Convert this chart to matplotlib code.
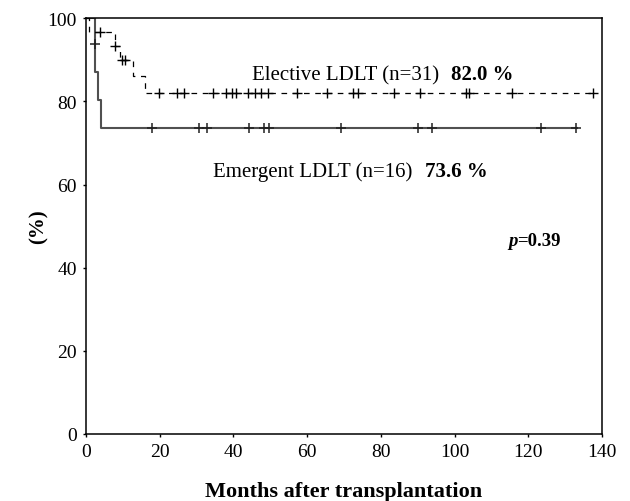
import numpy as np
import matplotlib
matplotlib.use("Agg")
import matplotlib.pyplot as plt

# ---- data ----
elective_drop_times = [0.9, 7.9, 9.3, 12.8, 16.0]
elective_levels = [100, 96.8, 93.4, 90.0, 86.2, 82.0]
elective_end = 137.6
elective_censor = [3.9, 8.0, 9.7, 10.6, 19.8, 24.8, 26.6, 34.5, 38.1, 39.5, 40.8,
                   44.0, 45.8, 47.6, 49.4, 57.2, 65.5, 72.5, 73.9, 83.6, 90.6,
                   103.1, 103.8, 115.5, 137.6]

emergent_drop_times = [2.35, 2.45, 3.3, 4.1]
emergent_levels = [100, 93.75, 87.05, 80.36, 73.6]
emergent_end = 133.5
emergent_censor = [2.4, 17.8, 30.7, 32.7, 44.3, 48.3, 49.7, 69.1, 90.0, 93.8,
                   123.4, 132.9]

x_ticks = [0, 20, 40, 60, 80, 100, 120, 140]
y_ticks = [0, 20, 40, 60, 80, 100]

label_elective = "Elective LDLT (n=31)"
value_elective = "82.0 %"
label_emergent = "Emergent LDLT (n=16)"
value_emergent = "73.6 %"
p_value = "=0.39"

plt.rcParams['font.family'] = ['Liberation Serif', 'DejaVu Serif']

fig = plt.figure(figsize=(6.30, 5.02), dpi=100)
ax = fig.add_axes([86/630, 1-435/502, (602-86)/630, (435-19.3)/502])


def step_xy(drops, levels, end):
    xs = [0] + list(drops) + [end]
    ys = list(levels) + [levels[-1]]
    return xs, ys


def level_at(t, drops, levels):
    idx = np.searchsorted(np.array(drops), t, side='right')
    return levels[idx]


# Emergent (solid, grey)
xs, ys = step_xy(emergent_drop_times, emergent_levels, emergent_end)
ax.step(xs, ys, where='post', color='#505050', lw=1.5, solid_capstyle='butt')
cy = [level_at(t, emergent_drop_times, emergent_levels) for t in emergent_censor]
ax.plot(emergent_censor, cy, ls='none', marker='+', ms=6.5, mew=1.1, color='#202020')

# Elective (dashed, black)
xs, ys = step_xy(elective_drop_times, elective_levels, elective_end)
ax.step(xs, ys, where='post', color='black', lw=0.9, dashes=(4.5, 4.5))
cy = [level_at(t, elective_drop_times, elective_levels) for t in elective_censor]
ax.plot(elective_censor, cy, ls='none', marker='+', ms=6.5, mew=1.0, color='black')

ax.set_xlim(0, 140)
ax.set_ylim(0, 100)
ax.set_xticks(x_ticks)
ax.set_yticks(y_ticks)
ax.tick_params(direction='out', length=2.5, width=1.0, labelsize=14, pad=4)
for s in ax.spines.values():
    s.set_linewidth(1.1)

ax.set_xlabel("Months after transplantation", fontsize=16, fontweight='bold', labelpad=15)
ax.set_ylabel("(%)", fontsize=15, fontweight='bold', labelpad=-1)

t1 = ax.text(45.0, 85.4, label_elective, fontsize=15, va='baseline', ha='left')
ax.annotate(value_elective, xy=(1, 0), xycoords=t1, xytext=(9, 0),
            textcoords='offset points', fontsize=15, fontweight='bold',
            va='bottom', ha='left')

t2 = ax.text(34.5, 62.0, label_emergent, fontsize=15, va='baseline', ha='left')
ax.annotate(value_emergent, xy=(1, 0), xycoords=t2, xytext=(9, 0),
            textcoords='offset points', fontsize=15, fontweight='bold',
            va='bottom', ha='left')

t3 = ax.text(114.5, 45.5, "p", fontsize=13.5, fontweight='bold', fontstyle='italic',
             va='baseline', ha='left')
ax.annotate(p_value, xy=(1, 0), xycoords=t3, xytext=(0, 0),
            textcoords='offset points', fontsize=13.5, fontweight='bold',
            va='bottom', ha='left')

fig.savefig("out.png", dpi=100)
